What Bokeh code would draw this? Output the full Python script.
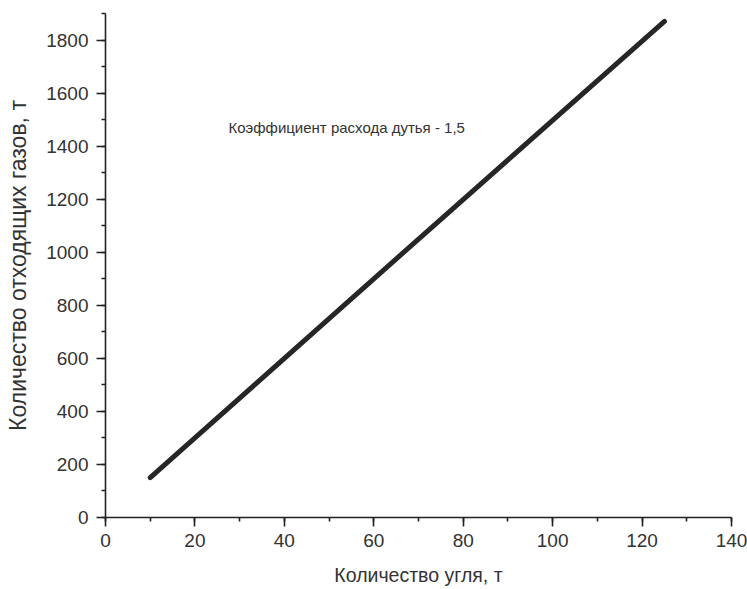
from bokeh.plotting import figure
from bokeh.models import Range1d, Label, SingleIntervalTicker
from bokeh.embed import file_html
from bokeh.resources import INLINE

# Data
coal_t = [10, 60, 125]
gas_t = [150, 900, 1870]
x_ticks = [0, 20, 40, 60, 80, 100, 120, 140]
y_ticks = [0, 200, 400, 600, 800, 1000, 1200, 1400, 1600, 1800]
annotation = "Коэффициент расхода дутья - 1,5"

FONT = "Liberation Sans"

p = figure(width=747, height=589, output_backend="svg", toolbar_location=None,
           x_range=Range1d(0, 140), y_range=Range1d(0, 1900),
           min_border_left=105, min_border_right=16, min_border_top=13, min_border_bottom=72)
p.outline_line_color = None
p.grid.grid_line_color = None
p.background_fill_color = "white"
p.border_fill_color = "white"

p.line(coal_t, gas_t, line_width=5, line_color="#262626", line_cap="round")

p.xaxis.ticker = SingleIntervalTicker(interval=20, num_minor_ticks=2)
p.yaxis.ticker = SingleIntervalTicker(interval=200, num_minor_ticks=2)
p.xaxis.axis_label = "Количество угля, т"
p.yaxis.axis_label = "Количество отходящих газов, т"

for ax in (p.xaxis, p.yaxis):
    ax.axis_line_width = 1.6
    ax.axis_line_color = "#222222"
    ax.major_tick_line_color = "#222222"
    ax.minor_tick_line_color = "#222222"
    ax.major_tick_line_width = 1.6
    ax.minor_tick_line_width = 1.6
    ax.major_tick_in = 0
    ax.major_tick_out = 9
    ax.minor_tick_in = 0
    ax.minor_tick_out = 4
    ax.major_label_text_font = FONT
    ax.major_label_text_font_size = "19px"
    ax.major_label_text_color = "#333333"
    ax.axis_label_text_font = FONT
    ax.axis_label_text_font_style = "normal"
    ax.axis_label_text_color = "#333333"

p.xaxis.axis_label_text_font_size = "19.5px"
p.yaxis.axis_label_text_font_size = "23px"
p.xaxis.major_label_standoff = 7
p.xaxis.axis_label_standoff = 14
p.yaxis.major_label_standoff = 8
p.yaxis.axis_label_standoff = 12

p.add_layout(Label(x=27.5, y=1472, text=annotation, text_font=FONT,
                   text_font_size="15px", text_color="#333333",
                   text_baseline="middle"))

open("out.html", "w").write(file_html(p, INLINE))
